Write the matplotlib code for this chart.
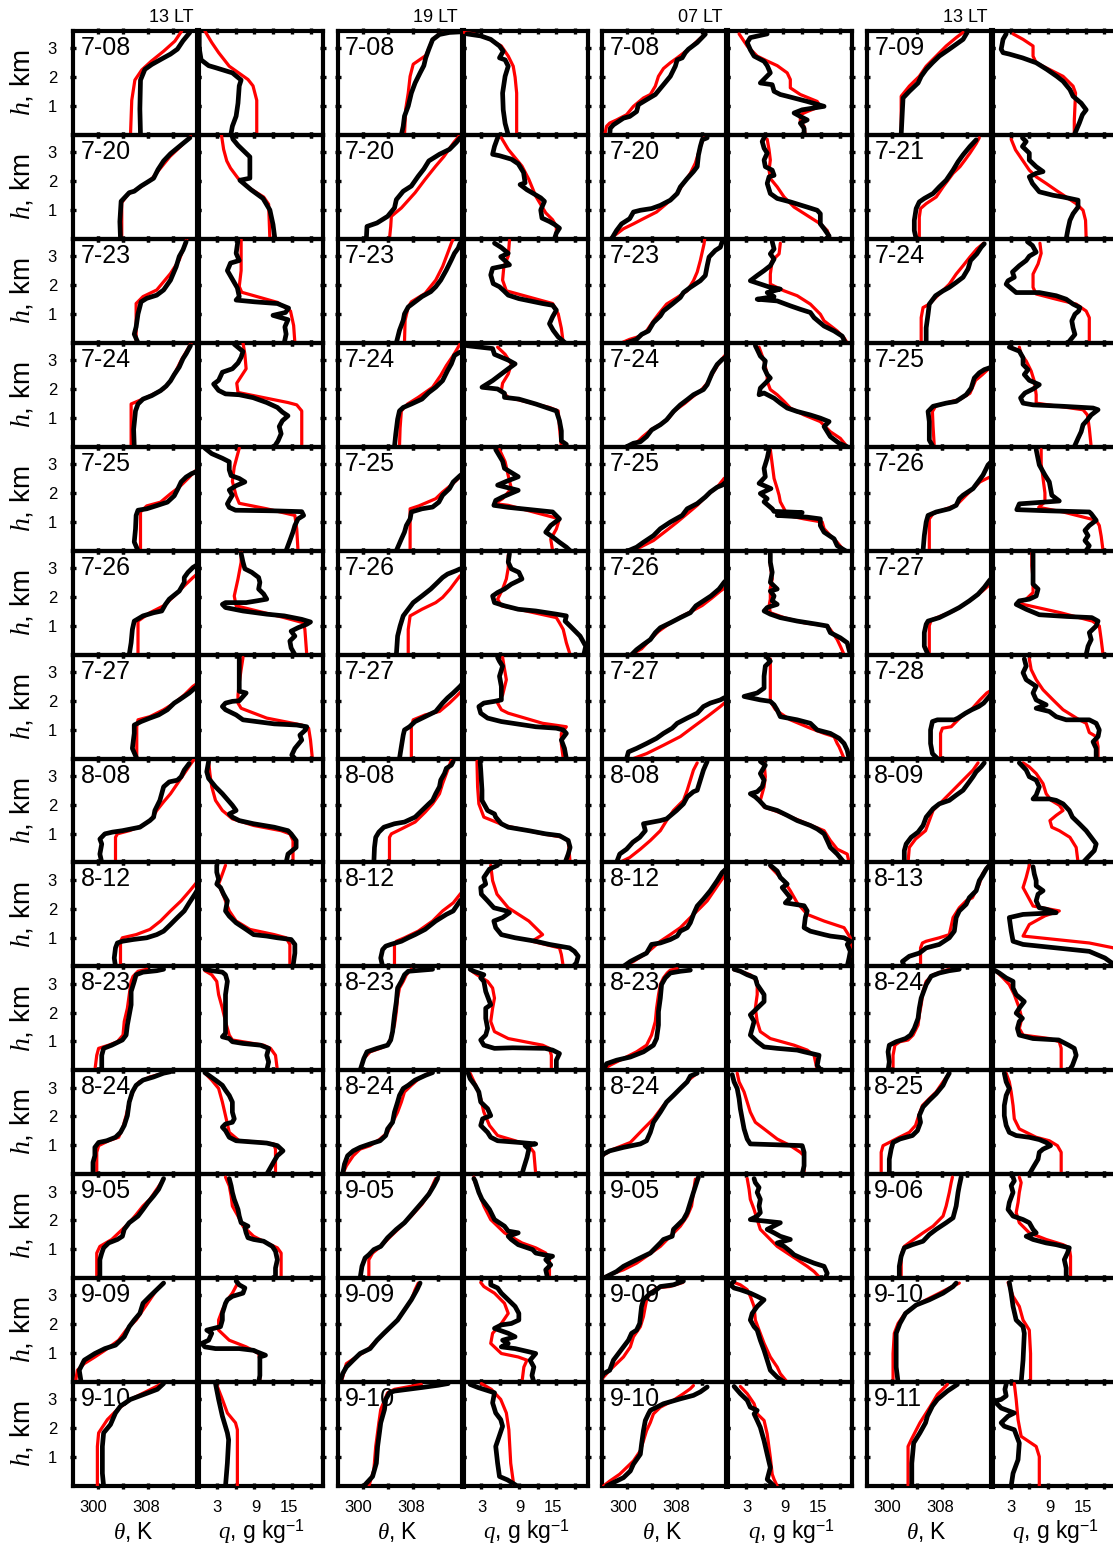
import matplotlib
matplotlib.use("Agg")
import matplotlib.pyplot as plt

plt.rcParams['font.family'] = ['Liberation Sans', 'DejaVu Sans']
plt.rcParams['mathtext.fontset'] = 'custom'
plt.rcParams['mathtext.it'] = 'Liberation Serif:italic'
plt.rcParams['mathtext.rm'] = 'Liberation Sans'

# ---------------------------------------------------------------- labels
col_titles = ['13 LT', '19 LT', '07 LT', '13 LT']
dates_13a = ['7-08', '7-20', '7-23', '7-24', '7-25', '7-26', '7-27',
             '8-08', '8-12', '8-23', '8-24', '9-05', '9-09', '9-10']
dates_19 = list(dates_13a)
dates_07 = list(dates_13a)
dates_13b = ['7-09', '7-21', '7-24', '7-25', '7-26', '7-27', '7-28',
             '8-09', '8-13', '8-24', '8-25', '9-06', '9-10', '9-11']
theta_ticks = [300, 304, 308, 312]
theta_labels = [(300, '300', -4.5), (308, '308', -1.5)]   # value, text, pixel nudge
q_ticks = [3, 6, 9, 12, 15, 18]
q_labels = [(3, '3', 0.5), (9, '9', 1.5), (15, '15', -3.0)]
h_ticks = [1, 2, 3]

# Profiles are (value, height km) pairs; theta in K, q in g/kg.
# ---------------------------------------------------------------- 13 LT (first column)
theta_mod_13a = [
    [(305.2,0),(305.4,1.2),(305.9,1.9),(307.0,2.25),(308.5,2.55),(310.5,2.9),(312.3,3.25),(313.4,3.6)],
    [(303.8,0),(303.8,1.25),(304.8,1.55),(306.5,1.75),(308.5,2.05),(310.0,2.45),(311.5,2.85),(313.2,3.2),(314.8,3.55)],
    [(306.1,0),(306.1,1.36),(307.2,1.6),(309.4,1.83),(311.6,2.4),(313.0,2.87),(313.8,3.34),(314.2,3.6)],
    [(305.3,0),(305.3,1.48),(307.8,1.71),(310.5,2.0),(311.6,2.28),(312.5,2.64),(313.3,2.99),(314.4,3.4),(314.9,3.6)],
    [(306.8,0),(306.8,1.34),(307.8,1.55),(310.0,1.68),(311.6,1.97),(313.0,2.2),(314.4,2.5),(315.5,2.75),(316.5,2.9)],
    [(306.4,0),(306.4,1.16),(308.3,1.45),(310.5,1.69),(312.2,2.03),(313.8,2.38),(315.2,2.67),(316.2,2.85)],
    [(306.2,0),(306.2,1.1),(306.4,1.34),(308.3,1.45),(310.5,1.69),(312.2,1.92),(313.8,2.2),(315.2,2.5),(316.2,2.65)],
    [(302.8,0),(302.8,0.87),(303.1,0.99),(305.0,1.1),(307.2,1.28),(308.6,1.51),(309.4,1.8),(310.5,2.1),(311.6,2.38),(312.7,2.73),(313.8,3.08),(314.9,3.43),(315.3,3.55)],
    [(303.6,0),(303.6,0.87),(303.9,0.99),(306.1,1.1),(308.3,1.28),(310.0,1.57),(311.6,1.92),(313.3,2.27),(314.7,2.62),(315.8,2.91),(316.3,3.0)],
    [(299.5,0),(299.8,0.52),(300.1,0.76),(301.7,0.87),(303.1,0.99),(304.0,1.22),(304.2,1.69),(304.7,2.15),(305.0,2.62),(305.3,3.08),(305.6,3.25),(306.4,3.43),(307.8,3.5)],
    [(299.8,0),(299.8,0.76),(300.1,0.99),(301.7,1.16),(303.3,1.28),(303.9,1.57),(304.5,2.03),(305.0,2.5),(305.8,2.97),(306.6,3.2),(308.3,3.37),(310.5,3.5)],
    [(299.8,0),(299.8,0.87),(300.3,1.1),(302.2,1.34),(303.9,1.69),(305.0,1.92),(306.1,2.2),(307.2,2.5),(308.3,2.73),(309.4,3.08),(310.5,3.43)],
    [(296.4,0),(296.7,0.41),(297.8,0.64),(299.5,0.87),(301.1,1.1),(303.3,1.45),(304.5,1.8),(306.1,2.15),(307.2,2.5),(308.3,2.85),(309.4,3.2),(310.5,3.43)],
    [(299.9,0),(299.9,1.37),(300.1,1.84),(301.5,2.3),(303.1,2.65),(305.2,3.0),(307.9,3.29),(310.0,3.52)],
]
theta_obs_13a = [
    [(306.8,0),(306.7,0.9),(306.8,1.9),(307.5,2.27),(308.6,2.44),(310.5,2.67),(311.6,2.8),(312.7,2.97),(313.6,3.26),(314.7,3.55)],
    [(303.6,0),(303.5,0.6),(303.7,1.3),(305.0,1.6),(305.8,1.65),(306.9,1.83),(307.8,1.95),(308.9,2.1),(309.6,2.4),(310.5,2.7),(311.6,2.95),(313.0,3.2),(314.7,3.5)],
    [(306.4,0),(305.8,0.3),(306.1,0.55),(306.4,1.0),(306.7,1.25),(306.9,1.42),(307.8,1.54),(309.4,1.65),(310.5,1.83),(311.6,2.17),(312.5,2.63),(313.0,2.99),(313.6,3.22),(314.1,3.5)],
    [(305.8,0),(305.7,0.6),(306.0,1.24),(306.4,1.48),(307.2,1.65),(308.6,1.77),(310.0,1.94),(310.9,2.1),(311.6,2.28),(312.2,2.5),(313.0,2.76),(313.6,3.05),(314.1,3.22),(314.8,3.5)],
    [(306.4,0),(305.8,0.3),(306.0,0.75),(306.1,1.22),(306.4,1.4),(307.8,1.45),(309.4,1.56),(311.1,1.68),(312.2,1.9),(312.8,2.15),(313.3,2.38),(314.1,2.55),(315.0,2.67),(316.5,2.8)],
    [(305.0,0),(305.3,0.41),(305.5,0.87),(305.8,1.16),(307.2,1.34),(308.9,1.45),(310.2,1.51),(310.8,1.74),(311.4,1.92),(313.0,2.2),(313.8,2.5),(313.8,2.67),(314.4,2.85),(315.2,3.02),(316.2,3.15)],
    [(306.2,0),(305.5,0.35),(305.8,0.87),(305.8,1.16),(306.9,1.28),(308.3,1.4),(309.7,1.51),(311.1,1.69),(312.2,1.92),(313.0,2.03),(313.8,2.15),(314.6,2.27),(315.5,2.44),(316.2,2.55)],
    [(300.6,0),(300.3,0.29),(300.6,0.64),(300.3,0.81),(301.1,0.99),(302.3,1.05),(303.9,1.1),(306.7,1.22),(308.3,1.45),(308.9,1.57),(309.1,1.8),(309.9,2.15),(310.5,2.62),(311.4,2.79),(312.7,2.85),(313.3,2.97),(313.8,3.2),(314.6,3.43)],
    [(302.8,0),(302.6,0.29),(302.8,0.64),(303.1,0.81),(303.9,0.87),(305.6,0.93),(307.8,0.99),(309.4,1.1),(310.5,1.22),(311.6,1.45),(312.7,1.69),(313.8,1.92),(314.6,2.2),(315.5,2.5),(316.2,2.75)],
    [(300.6,0),(300.6,0.52),(300.9,0.76),(302.2,0.87),(303.9,1.05),(304.5,1.22),(304.7,1.57),(305.0,1.92),(305.3,2.27),(305.3,2.73),(305.8,3.08),(306.1,3.31),(307.2,3.4),(309.4,3.45),(310.5,3.5)],
    [(299.2,0),(299.2,0.41),(299.5,0.64),(299.5,0.93),(300.1,1.1),(301.4,1.16),(302.8,1.28),(303.6,1.45),(304.2,1.69),(304.7,2.03),(305.0,2.5),(305.5,2.85),(306.1,3.08),(307.2,3.26),(308.9,3.37),(310.5,3.5),(311.6,3.55)],
    [(300.3,0),(300.3,0.64),(300.6,0.87),(300.9,1.05),(301.7,1.22),(303.1,1.34),(303.9,1.45),(304.2,1.69),(305.0,1.92),(306.4,2.15),(307.2,2.38),(308.0,2.62),(308.9,2.85),(309.7,3.08),(310.2,3.31),(310.5,3.45)],
    [(297.3,0),(297.0,0.41),(297.8,0.76),(299.5,0.99),(301.1,1.16),(302.8,1.28),(304.2,1.57),(305.0,1.92),(305.8,2.15),(306.7,2.38),(307.2,2.73),(308.3,2.97),(309.4,3.2),(310.5,3.43)],
    [(300.9,0),(300.7,0.44),(300.7,1.37),(300.9,1.84),(302.0,2.13),(302.8,2.53),(303.6,2.77),(305.2,3.0),(307.3,3.17),(309.5,3.35),(310.5,3.55)],
]
q_mod_13a = [
    [(9.4,0),(9.4,1.2),(8.8,1.7),(8.0,1.92),(5.0,2.38),(3.3,2.85),(2.2,3.2),(1.1,3.6)],
    [(11.5,0),(11.3,1.2),(10.5,1.45),(8.3,1.75),(6.4,2.1),(5.2,2.45),(4.6,2.7),(4.1,3.1),(3.75,3.6)],
    [(15.5,0),(15.3,0.6),(14.8,1.1),(12.7,1.4),(7.0,1.75),(6.6,1.95),(6.9,2.5),(6.9,3.6)],
    [(16.6,0),(16.6,1.24),(15.8,1.45),(14.4,1.53),(6.4,1.88),(6.2,2.2),(7.7,2.7),(7.5,3.2),(7.2,3.6)],
    [(16.0,0),(15.8,0.75),(15.5,1.22),(11.0,1.45),(6.6,1.64),(6.1,1.9),(5.5,2.4),(5.8,2.9),(6.6,3.55)],
    [(17.4,0),(17.1,0.87),(16.9,1.1),(13.8,1.28),(6.1,1.69),(5.8,2.03),(6.4,2.62),(6.9,3.2),(6.9,3.6)],
    [(18.3,0),(18.0,0.64),(17.7,1.05),(16.6,1.16),(11.0,1.4),(6.9,1.74),(6.4,1.92),(6.4,2.2),(6.6,2.62),(6.9,3.08),(7.2,3.5)],
    [(15.2,0),(15.2,0.76),(14.7,0.99),(13.3,1.1),(8.9,1.28),(5.5,1.51),(3.9,1.8),(2.8,2.15),(2.2,2.62),(1.9,3.08),(1.7,3.5)],
    [(14.7,0),(14.7,0.76),(14.1,0.99),(12.2,1.1),(8.3,1.28),(6.1,1.57),(5.0,1.92),(4.2,2.38),(3.3,2.85),(3.9,3.2),(4.4,3.5)],
    [(12.7,0),(12.4,0.52),(11.6,0.76),(10.5,0.87),(5.5,1.05),(5.0,1.22),(4.4,1.69),(3.9,2.15),(3.3,2.62),(3.0,3.08),(2.2,3.31),(1.1,3.45)],
    [(12.4,0),(12.4,0.87),(12.1,1.05),(10.5,1.1),(6.6,1.16),(5.0,1.45),(4.4,2.03),(3.9,2.5),(3.3,2.97),(2.2,3.26),(1.1,3.5)],
    [(13.3,0),(13.3,0.87),(12.7,1.05),(11.0,1.22),(8.9,1.45),(7.2,1.8),(6.4,2.15),(5.5,2.5),(5.3,2.85),(5.0,3.2),(4.4,3.5)],
    [(9.9,0),(9.9,0.76),(9.7,0.99),(7.7,1.22),(5.0,1.45),(3.3,1.8),(3.3,2.15),(3.9,2.5),(4.7,2.85),(5.5,3.08),(6.4,3.45)],
    [(6.3,0),(6.3,1.95),(6.0,2.19),(4.7,2.53),(3.9,3.0),(3.0,3.5)],
]
q_obs_13a = [
    [(5.25,0),(5.5,0.3),(6.1,0.65),(6.4,1.1),(6.6,1.7),(6.9,1.9),(5.5,2.15),(2.8,2.33),(1.7,2.4),(1.1,2.5),(0.5,2.6),(0.2,3.0),(0.2,3.6)],
    [(12.3,0),(12.0,0.5),(11.5,1.0),(10.4,1.4),(8.5,1.7),(6.7,2.03),(8.3,2.1),(8.3,2.84),(6.4,3.24),(5.6,3.45),(5.4,3.6)],
    [(13.8,0),(14.1,0.3),(13.9,0.55),(14.4,0.8),(12.0,0.95),(14.0,1.05),(14.5,1.2),(12.7,1.36),(9.0,1.42),(6.1,1.48),(6.6,1.6),(6.3,1.9),(5.5,2.2),(4.7,2.5),(5.2,2.76),(6.6,2.85),(6.1,3.1),(6.4,3.55)],
    [(12.2,0),(12.8,0.2),(13.3,0.45),(13.0,0.7),(13.5,0.9),(14.4,1.07),(13.5,1.2),(12.7,1.36),(11.0,1.53),(8.8,1.7),(6.6,1.8),(4.4,1.83),(3.3,1.95),(2.5,2.17),(3.3,2.3),(3.9,2.58),(5.5,2.7),(6.4,2.9),(6.9,3.1),(7.2,3.3),(5.8,3.55)],
    [(14.1,0),(14.7,0.35),(15.2,0.65),(15.5,0.87),(16.0,1.1),(16.9,1.22),(16.6,1.35),(12.0,1.38),(6.0,1.4),(5.0,1.5),(4.7,1.62),(5.0,1.74),(5.5,1.92),(5.0,2.1),(6.1,2.25),(7.5,2.38),(6.6,2.5),(5.3,2.6),(5.0,2.8),(5.0,3.08),(3.9,3.2),(2.2,3.36),(1.1,3.55)],
    [(15.5,0),(14.9,0.23),(14.7,0.47),(15.5,0.64),(14.9,0.81),(16.0,0.93),(17.4,1.05),(18.0,1.13),(16.6,1.22),(13.8,1.34),(11.0,1.4),(7.2,1.51),(4.4,1.63),(3.9,1.74),(4.4,1.8),(7.7,1.8),(9.4,1.86),(11.0,1.92),(10.5,2.1),(9.7,2.27),(9.9,2.5),(9.7,2.67),(8.6,2.85),(7.5,2.97),(7.2,3.2),(6.9,3.5)],
    [(15.5,0),(15.0,0.12),(15.5,0.35),(16.6,0.64),(16.3,0.81),(17.2,0.99),(17.4,1.1),(15.8,1.16),(12.2,1.2),(7.2,1.34),(6.1,1.51),(4.4,1.69),(3.9,1.8),(4.4,1.92),(5.5,1.98),(6.6,2.0),(7.7,2.27),(6.6,2.33),(6.6,2.73),(6.6,3.5)],
    [(14.1,0),(14.4,0.29),(15.7,0.52),(15.7,0.76),(14.9,0.99),(14.4,1.1),(12.2,1.22),(8.9,1.34),(6.6,1.45),(5.5,1.57),(5.0,1.68),(6.1,1.8),(5.5,1.98),(3.9,2.38),(2.8,2.62),(1.7,2.91),(1.4,3.14),(1.7,3.5)],
    [(15.2,0),(15.5,0.46),(15.5,0.76),(14.9,0.93),(12.7,0.99),(11.0,1.05),(8.9,1.1),(7.7,1.28),(6.1,1.51),(5.0,1.74),(4.4,1.92),(4.7,2.27),(4.1,2.5),(3.6,2.73),(3.0,2.85),(3.3,3.02),(3.0,3.26),(3.0,3.5)],
    [(11.0,0),(11.3,0.29),(11.0,0.52),(11.3,0.76),(10.0,0.87),(7.2,0.93),(5.5,0.99),(5.0,1.1),(3.9,1.16),(4.4,1.28),(4.4,1.69),(4.4,2.15),(4.4,2.62),(4.7,3.08),(4.4,3.31),(3.9,3.4),(2.2,3.45),(1.1,3.5)],
    [(11.0,0),(11.6,0.23),(12.2,0.46),(12.7,0.64),(13.6,0.81),(12.7,0.99),(11.0,1.08),(6.1,1.16),(5.0,1.28),(4.4,1.51),(3.9,1.63),(4.4,1.74),(5.5,1.8),(5.8,1.92),(5.5,2.15),(5.5,2.5),(5.0,2.73),(4.4,2.91),(3.9,3.08),(2.8,3.26),(1.7,3.43),(1.1,3.52)],
    [(12.4,0),(12.4,0.35),(12.7,0.64),(12.4,0.93),(11.9,1.1),(10.5,1.28),(8.9,1.34),(8.0,1.4),(7.7,1.57),(7.5,1.74),(8.0,1.8),(6.9,1.92),(6.6,2.15),(6.4,2.38),(5.8,2.73),(5.5,2.97),(5.3,3.2),(5.0,3.45)],
    [(9.7,0),(9.9,0.23),(9.9,0.64),(9.9,0.87),(10.8,0.93),(9.4,1.05),(8.9,1.1),(6.6,1.16),(2.8,1.16),(1.1,1.22),(0.6,1.34),(1.7,1.45),(2.2,1.69),(1.4,1.8),(3.6,1.92),(3.9,2.15),(3.9,2.38),(4.4,2.73),(4.7,2.85),(5.5,2.97),(7.2,3.08),(7.5,3.26),(6.6,3.37),(6.1,3.5)],
    [(4.4,0),(4.7,0.8),(4.9,1.6),(4.7,1.84),(3.9,2.42),(3.3,3.0),(2.8,3.55)],
]

# ---------------------------------------------------------------- 19 LT
theta_mod_19 = [
    [(306.7,0),(306.9,0.9),(307.3,1.45),(307.6,2.03),(308.1,2.45),(310.1,2.75),(311.2,3.3),(312.3,3.5),(314.0,3.56),(316.5,3.58)],
    [(304.3,0),(304.5,0.43),(304.6,0.78),(306.2,1.07),(308.4,1.6),(310.0,2.06),(311.7,2.52),(313.0,2.85),(314.6,3.34),(315.6,3.6)],
    [(306.7,0),(306.8,0.78),(307.3,1.24),(307.8,1.42),(310.0,1.71),(311.7,2.17),(312.8,2.64),(313.6,3.1),(314.2,3.45),(314.5,3.6)],
    [(305.9,0),(306.0,0.65),(306.2,1.24),(307.2,1.48),(308.9,1.71),(311.2,2.06),(312.5,2.47),(313.4,2.81),(314.5,3.16),(315.3,3.45),(315.7,3.6)],
    [(307.6,0),(307.6,1.45),(309.0,1.55),(311.7,1.8),(312.8,2.03),(314.5,2.33),(315.6,2.56),(316.5,2.7)],
    [(307.3,0),(307.3,0.87),(307.6,1.34),(309.5,1.57),(311.7,1.8),(312.8,1.98),(314.0,2.27),(315.0,2.56),(315.6,2.73)],
    [(307.8,0),(307.8,1.1),(308.1,1.34),(310.0,1.51),(312.3,1.63),(313.9,1.92),(315.0,2.15),(315.8,2.33),(316.2,2.4)],
    [(304.3,0),(304.3,0.87),(304.6,0.99),(306.2,1.16),(308.4,1.4),(310.0,1.74),(311.2,2.03),(312.3,2.38),(312.8,2.73),(313.4,3.08),(314.0,3.43),(314.3,3.6)],
    [(305.1,0),(305.1,0.76),(305.4,0.87),(306.7,0.99),(308.9,1.22),(311.2,1.57),(312.8,1.92),(314.5,2.2),(315.6,2.5),(316.2,2.65)],
    [(299.6,0),(300.2,0.41),(301.2,0.64),(302.8,0.76),(304.0,0.87),(304.5,1.1),(305.1,1.57),(305.4,2.03),(305.6,2.5),(305.9,2.85),(306.5,3.08),(307.0,3.31),(307.8,3.5)],
    [(296.8,0),(297.4,0.29),(298.5,0.64),(299.6,0.87),(301.2,0.99),(302.8,1.22),(304.0,1.45),(304.8,1.8),(305.6,2.15),(306.2,2.5),(306.7,2.85),(307.8,3.08),(309.0,3.31),(310.6,3.5)],
    [(301.0,0),(301.0,0.64),(301.6,0.87),(302.9,1.1),(304.5,1.45),(306.2,1.8),(307.8,2.15),(309.5,2.56),(310.6,2.91),(311.4,3.31),(311.7,3.45)],
    [(296.6,0),(297.1,0.41),(297.4,0.64),(299.0,0.87),(300.7,1.1),(302.3,1.45),(304.0,1.8),(305.6,2.15),(306.7,2.5),(307.8,2.85),(308.4,3.2),(308.9,3.43)],
    [(301.0,0),(301.8,0.56),(302.1,1.37),(302.6,2.19),(302.9,2.65),(304.0,3.23),(305.1,3.35),(309.4,3.52)],
]
theta_obs_19 = [
    [(306.2,0),(306.5,0.3),(306.7,0.65),(307.3,1.0),(307.8,1.45),(308.4,1.8),(309.2,2.15),(309.8,2.4),(310.1,2.67),(310.6,2.97),(311.2,3.3),(312.3,3.48),(313.9,3.55),(316.5,3.58)],
    [(300.6,0),(300.7,0.43),(302.3,0.55),(304.0,0.78),(305.1,1.07),(305.4,1.36),(306.5,1.65),(307.8,1.83),(308.9,2.17),(309.8,2.42),(310.6,2.7),(312.3,2.93),(313.9,3.1),(315.0,3.34),(315.6,3.5)],
    [(305.4,0),(305.9,0.43),(306.5,0.78),(306.7,1.0),(307.3,1.24),(308.4,1.42),(309.5,1.6),(310.9,1.77),(311.7,1.94),(312.5,2.17),(313.4,2.52),(314.2,2.87),(314.7,3.1),(315.3,3.28),(315.6,3.45)],
    [(305.1,0),(305.3,0.43),(305.6,0.95),(305.9,1.24),(306.5,1.36),(307.8,1.48),(309.5,1.65),(310.6,1.88),(311.7,2.06),(312.8,2.29),(313.6,2.64),(314.2,2.87),(314.7,3.16),(315.6,3.28)],
    [(305.4,0),(306.2,0.4),(306.7,0.64),(307.0,0.87),(307.6,1.1),(307.8,1.34),(309.5,1.45),(311.2,1.51),(312.2,1.68),(312.8,1.92),(313.9,2.15),(314.5,2.38),(315.6,2.6),(316.5,2.75)],
    [(305.4,0),(305.6,0.64),(306.0,0.99),(306.5,1.34),(307.3,1.57),(308.1,1.8),(309.5,2.03),(310.9,2.27),(312.0,2.5),(312.8,2.67),(313.6,2.79),(315.0,2.91),(315.6,2.97)],
    [(305.9,0),(306.2,0.41),(306.5,0.81),(306.7,0.99),(307.5,1.1),(308.4,1.28),(310.0,1.45),(311.7,1.63),(312.8,1.92),(313.6,2.1),(314.5,2.27),(315.6,2.5),(316.0,2.6)],
    [(301.8,0),(301.9,0.52),(302.1,0.87),(302.6,1.05),(303.4,1.22),(305.1,1.34),(306.7,1.4),(308.4,1.57),(309.5,1.8),(310.6,2.03),(311.2,2.15),(311.7,2.38),(312.3,2.62),(312.5,2.85),(313.1,3.08),(313.4,3.26),(314.2,3.37),(314.5,3.5)],
    [(303.2,0),(302.9,0.29),(303.2,0.58),(303.7,0.7),(304.5,0.76),(306.2,0.87),(307.3,0.99),(308.4,1.1),(310.0,1.28),(311.7,1.57),(313.4,1.8),(314.5,1.92),(315.6,2.27),(316.2,2.4)],
    [(299.6,0),(300.2,0.41),(300.7,0.64),(302.3,0.76),(304.0,0.87),(304.5,1.05),(304.8,1.34),(305.1,1.92),(305.4,2.38),(305.6,2.85),(306.2,3.08),(306.7,3.31),(307.3,3.43),(309.5,3.47),(311.2,3.5)],
    [(296.8,0),(297.1,0.35),(297.6,0.64),(298.5,0.81),(299.6,0.93),(301.2,1.05),(302.8,1.16),(303.7,1.34),(304.0,1.57),(304.8,1.8),(305.1,2.15),(305.6,2.5),(305.9,2.73),(306.5,2.97),(307.3,3.08),(308.4,3.26),(310.1,3.43),(311.2,3.52)],
    [(299.6,0),(299.9,0.41),(300.4,0.7),(301.0,0.81),(301.8,0.99),(302.9,1.1),(304.0,1.4),(305.4,1.69),(306.7,1.92),(308.1,2.27),(309.5,2.62),(310.6,2.91),(311.4,3.2),(312.0,3.45)],
    [(296.4,0),(296.8,0.29),(297.4,0.52),(298.5,0.76),(299.6,0.99),(301.2,1.16),(302.3,1.45),(303.4,1.69),(304.5,1.92),(305.6,2.15),(306.7,2.5),(307.8,2.85),(308.7,3.2),(309.2,3.43)],
    [(300.2,0),(301.6,0.33),(302.2,0.79),(302.4,1.37),(302.9,2.19),(303.5,2.65),(303.7,3.0),(304.3,3.23),(305.1,3.29),(309.4,3.41),(312.1,3.49),(313.7,3.55)],
]
q_mod_19 = [
    [(8.65,0),(8.65,1.45),(8.4,2.0),(8.1,2.38),(7.3,2.73),(6.2,3.08),(4.0,3.35),(1.8,3.5),(0.1,3.56)],
    [(15.0,0),(15.0,0.43),(14.4,0.66),(13.3,0.9),(11.7,1.48),(10.6,2.06),(9.5,2.52),(7.3,3.1),(6.2,3.5)],
    [(16.1,0),(15.8,0.5),(15.3,1.0),(14.4,1.36),(7.0,1.8),(6.4,2.17),(6.6,2.64),(7.3,3.0),(7.5,3.55)],
    [(15.8,0),(15.5,0.65),(15.3,1.24),(13.9,1.36),(7.3,1.71),(6.2,1.94),(6.4,2.2),(7.3,2.52),(7.8,2.87),(6.8,3.2),(5.6,3.45)],
    [(14.4,0),(14.1,0.4),(15.0,0.75),(15.5,1.1),(7.3,1.57),(5.1,1.63),(6.4,1.8),(7.8,2.15),(7.3,2.6),(6.8,3.08),(5.9,3.5)],
    [(17.2,0),(16.6,0.41),(16.1,0.87),(15.5,1.1),(15.0,1.28),(8.9,1.57),(6.2,1.69),(5.6,1.92),(6.4,2.27),(7.0,2.62),(7.3,3.0),(7.3,3.45)],
    [(16.1,0),(15.8,0.5),(15.8,0.87),(16.6,1.1),(12.8,1.22),(7.3,1.57),(6.2,1.69),(5.6,1.92),(6.4,2.2),(7.0,2.73),(6.7,3.1),(6.4,3.5)],
    [(17.2,0),(16.9,0.76),(16.1,0.87),(12.8,0.99),(6.7,1.28),(3.4,1.57),(2.6,2.03),(2.4,2.62),(2.3,3.5)],
    [(16.1,0),(15.8,0.41),(15.5,0.64),(11.1,0.87),(12.8,1.1),(10.6,1.57),(7.3,2.03),(5.5,2.5),(4.8,2.97),(4.5,3.5)],
    [(14.2,0),(14.2,0.52),(13.9,0.76),(12.8,0.87),(7.3,1.1),(5.1,1.34),(4.5,1.69),(4.8,2.15),(5.1,2.5),(4.8,2.85),(4.0,3.08),(2.3,3.31),(1.2,3.48)],
    [(11.7,0),(11.4,0.76),(10.6,0.99),(8.4,1.16),(5.6,1.34),(4.3,1.69),(3.4,2.15),(2.9,2.62),(2.1,3.08),(1.2,3.5)],
    [(13.9,0),(13.9,0.64),(13.3,0.87),(11.7,1.05),(9.5,1.22),(6.7,1.57),(4.5,2.03),(3.4,2.5),(2.6,2.97),(2.0,3.31),(1.8,3.5)],
    [(9.5,0),(9.8,0.52),(10.3,0.76),(8.9,0.87),(6.2,0.99),(4.5,1.34),(4.8,1.69),(6.2,2.03),(7.3,2.38),(6.7,2.73),(5.1,3.08),(3.4,3.31),(2.9,3.45)],
    [(8.2,0),(7.7,0.79),(7.4,1.95),(7.0,2.53),(6.1,3.0),(4.6,3.35),(3.0,3.55)],
]
q_obs_19 = [
    [(7.3,0),(6.8,0.4),(6.5,0.87),(6.4,1.45),(6.8,2.03),(7.3,2.38),(6.8,2.6),(5.9,2.67),(6.5,2.9),(5.9,3.08),(4.5,3.31),(2.9,3.43),(0.7,3.5)],
    [(14.7,0),(15.0,0.2),(15.5,0.37),(14.7,0.5),(13.9,0.6),(12.7,0.72),(12.5,1.0),(13.1,1.3),(12.5,1.42),(11.1,1.6),(10.3,1.7),(9.2,1.88),(10.0,1.94),(9.75,2.3),(8.9,2.6),(7.8,2.76),(5.9,2.88),(4.8,2.93),(5.1,3.2),(5.6,3.5)],
    [(16.4,0),(15.3,0.2),(14.5,0.43),(13.9,0.66),(14.4,0.9),(15.0,1.13),(14.4,1.3),(12.8,1.36),(9.0,1.53),(7.3,1.65),(6.6,1.8),(5.9,1.94),(4.9,2.05),(4.5,2.35),(4.8,2.58),(7.5,2.7),(6.1,2.98),(7.3,3.1),(6.2,3.3),(5.1,3.45)],
    [(16.4,0),(16.6,0.08),(15.8,0.2),(15.8,0.55),(15.5,0.9),(15.0,1.24),(11.7,1.48),(9.0,1.65),(6.7,1.71),(6.7,1.85),(5.6,2.0),(3.1,2.06),(4.8,2.29),(6.2,2.52),(7.3,2.7),(8.4,2.87),(7.3,3.0),(5.1,3.2),(4.8,3.4),(0.7,3.5)],
    [(17.2,0),(16.6,0.12),(15.5,0.29),(14.5,0.46),(13.3,0.64),(14.1,0.87),(15.5,1.1),(14.4,1.34),(7.3,1.5),(5.0,1.57),(5.3,1.74),(6.4,1.86),(8.9,2.09),(5.6,2.27),(7.0,2.4),(8.9,2.56),(6.7,2.85),(6.4,3.1),(5.3,3.5)],
    [(19.4,0),(19.7,0.29),(18.8,0.64),(17.2,0.99),(16.4,1.16),(16.6,1.34),(15.0,1.4),(11.7,1.51),(8.9,1.57),(6.7,1.69),(5.1,1.8),(4.8,2.03),(5.6,2.15),(6.7,2.27),(7.8,2.44),(9.5,2.62),(9.0,2.85),(7.8,2.97),(7.3,3.2),(7.5,3.5)],
    [(16.6,0),(16.3,0.35),(15.8,0.64),(16.6,0.87),(16.1,0.99),(15.0,1.05),(11.7,1.1),(6.2,1.28),(4.0,1.4),(2.9,1.57),(2.6,1.8),(3.4,1.92),(5.1,1.98),(6.2,2.03),(6.2,2.5),(5.9,2.85),(6.4,3.2),(5.9,3.37),(5.6,3.5)],
    [(16.4,0),(16.9,0.29),(17.2,0.52),(16.9,0.76),(15.5,0.93),(13.3,0.99),(10.6,1.1),(7.3,1.22),(6.2,1.34),(5.3,1.57),(5.1,1.68),(4.0,1.8),(3.1,2.15),(3.1,2.5),(3.0,2.85),(2.9,3.2),(2.8,3.5)],
    [(17.7,0),(18.2,0.12),(18.5,0.35),(17.9,0.52),(17.1,0.64),(13.9,0.76),(11.7,0.87),(8.4,0.99),(6.2,1.1),(5.3,1.34),(5.0,1.57),(6.4,1.69),(7.5,1.86),(7.0,1.92),(5.0,2.03),(4.0,2.27),(3.0,2.5),(2.9,2.73),(3.7,2.85),(3.4,3.08),(4.3,3.37),(5.6,3.5)],
    [(15.0,0),(15.0,0.35),(15.5,0.58),(14.4,0.7),(13.2,0.76),(8.0,0.78),(5.1,0.76),(3.4,0.87),(2.9,1.05),(3.7,1.22),(4.0,1.45),(3.7,1.8),(3.7,2.15),(4.5,2.27),(3.7,2.73),(3.4,3.08),(2.9,3.2),(3.4,3.31),(1.8,3.43),(1.2,3.5)],
    [(9.5,0),(9.8,0.23),(10.3,0.58),(10.6,0.87),(10.0,0.99),(11.7,1.05),(9.1,1.1),(5.6,1.16),(4.5,1.28),(4.0,1.45),(2.9,1.69),(3.2,1.92),(4.5,2.03),(4.0,2.27),(2.9,2.5),(2.6,2.85),(2.0,3.08),(1.2,3.31),(0.9,3.5)],
    [(13.6,0),(13.3,0.29),(14.1,0.46),(13.3,0.64),(14.4,0.76),(13.0,0.81),(11.7,0.87),(11.2,0.99),(8.9,1.16),(7.8,1.34),(7.3,1.45),(8.9,1.57),(7.3,1.63),(6.7,1.8),(5.1,2.03),(4.3,2.38),(3.1,2.73),(2.6,2.97),(2.0,3.37),(1.8,3.45)],
    [(11.4,0),(11.1,0.23),(11.4,0.52),(10.8,0.76),(11.7,0.99),(10.6,1.05),(8.4,1.16),(6.2,1.22),(7.3,1.34),(6.4,1.45),(8.4,1.57),(7.3,1.69),(5.1,1.86),(6.2,1.98),(7.8,2.03),(9.0,2.15),(9.0,2.38),(8.4,2.62),(7.3,2.85),(6.2,3.08),(5.6,3.26),(4.5,3.37),(4.5,3.5)],
    [(8.75,0),(7.2,0.21),(5.9,0.33),(5.6,0.79),(5.3,1.37),(6.4,2.07),(6.1,2.3),(5.3,2.53),(4.8,2.88),(5.1,3.23),(2.5,3.41),(1.2,3.52)],
]

# ---------------------------------------------------------------- 07 LT
theta_mod_07 = [
    [(296.4,0),(296.7,0.3),(297.2,0.41),(298.3,0.52),(299.9,0.7),(301.0,0.99),(302.6,1.28),(303.7,1.4),(304.5,1.69),(305.0,2.03),(305.8,2.3),(306.9,2.5),(308.0,2.67),(310.1,3.02),(311.2,3.25),(312.5,3.5)],
    [(297.2,0),(298.3,0.17),(299.4,0.35),(301.0,0.52),(302.6,0.7),(304.7,0.93),(306.3,1.22),(308.0,1.57),(309.0,1.92),(310.1,2.27),(310.9,2.62),(311.4,2.97),(312.0,3.37),(312.3,3.5)],
    [(299.1,0),(300.4,0.12),(302.1,0.23),(303.1,0.41),(304.2,0.76),(305.0,0.99),(306.3,1.34),(308.0,1.57),(309.6,1.8),(310.6,2.15),(311.2,2.45),(311.7,2.85),(312.3,3.43),(312.4,3.6)],
    [(300.2,0),(301.3,0.1),(302.5,0.35),(303.9,0.6),(305.5,0.8),(306.6,0.98),(307.6,1.25),(309.2,1.5),(310.3,1.7),(311.8,1.95),(312.8,2.2),(313.6,2.5),(314.4,2.8),(315.4,3.1),(316.2,3.3)],
    [(300.5,0),(302.1,0.12),(304.2,0.35),(306.3,0.7),(308.0,0.99),(309.6,1.28),(311.2,1.57),(312.8,1.92),(314.4,2.2),(315.5,2.5),(316.2,2.6)],
    [(300.7,0),(302.3,0.2),(303.6,0.5),(305.0,0.8),(306.6,1.05),(308.5,1.3),(310.3,1.5),(312.0,1.7),(313.5,1.95),(314.9,2.2),(316.2,2.4)],
    [(301.0,0),(303.1,0.17),(305.8,0.46),(308.5,0.76),(310.6,1.1),(312.8,1.45),(314.9,1.8),(315.7,1.95),(316.2,2.0)],
    [(298.8,0),(300.4,0.17),(302.1,0.46),(303.7,0.76),(305.3,1.1),(306.3,1.45),(307.4,1.8),(309.0,2.15),(309.6,2.5),(310.1,2.85),(310.6,3.2),(311.2,3.45)],
    [(299.4,0),(301.0,0.17),(303.1,0.46),(305.3,0.87),(306.9,1.1),(308.5,1.34),(310.1,1.69),(311.7,2.03),(312.8,2.27),(313.9,2.62),(315.0,2.97),(315.8,3.2)],
    [(296.0,0),(297.2,0.17),(299.4,0.41),(301.5,0.64),(303.1,0.87),(303.9,1.22),(304.5,1.69),(304.7,2.15),(305.0,2.6),(305.3,2.97),(305.8,3.2),(306.4,3.37),(306.9,3.47),(308.0,3.52)],
    [(294.5,0),(295.3,0.35),(296.0,0.64),(297.8,0.87),(300.5,1.1),(302.6,1.57),(304.2,1.92),(305.8,2.38),(306.9,2.62),(308.0,2.85),(309.0,3.08),(310.1,3.31),(311.2,3.5)],
    [(296.0,0),(297.2,0.12),(299.4,0.29),(301.5,0.52),(303.1,0.76),(305.3,1.1),(306.9,1.45),(308.5,1.8),(309.6,2.15),(310.3,2.5),(310.6,2.97),(310.9,3.43)],
    [(295.5,0),(296.2,0.17),(297.2,0.41),(298.3,0.64),(299.4,0.87),(300.5,1.22),(301.0,1.57),(302.1,1.92),(302.6,2.27),(302.9,2.62),(303.1,2.85),(303.7,3.08),(304.7,3.26),(306.8,3.31),(308.9,3.45)],
    [(296.2,0),(297.2,0.17),(298.8,0.41),(299.9,0.64),(301.0,0.87),(302.1,1.22),(302.6,1.57),(303.1,1.92),(303.7,2.2),(304.2,2.5),(305.3,2.73),(307.4,2.97),(309.0,3.2),(310.1,3.37),(310.6,3.48)],
]
theta_obs_07 = [
    [(297.2,0),(297.3,0.23),(297.8,0.35),(299.4,0.58),(300.4,0.64),(301.5,0.81),(301.8,1.05),(303.1,1.22),(304.5,1.4),(305.8,1.74),(306.9,2.03),(307.7,2.38),(308.0,2.6),(308.8,2.67),(309.3,2.85),(309.8,2.97),(311.2,3.2),(312.5,3.49)],
    [(297.5,0),(298.3,0.29),(299.1,0.52),(300.4,0.7),(301.0,0.93),(302.1,0.99),(303.9,1.05),(305.3,1.16),(306.9,1.34),(308.0,1.57),(308.5,1.8),(309.6,2.09),(310.6,2.33),(311.2,2.5),(311.4,2.9),(311.7,3.2),(312.0,3.43),(312.8,3.5)],
    [(299.9,0),(301.5,0.12),(302.3,0.29),(303.4,0.41),(304.2,0.7),(305.3,0.93),(305.8,1.1),(307.2,1.34),(308.5,1.57),(309.0,1.74),(310.1,1.92),(311.7,2.15),(312.5,2.33),(312.8,2.67),(313.1,2.97),(314.1,3.2),(314.9,3.31),(315.2,3.5)],
    [(299.9,0),(301.0,0.12),(302.1,0.17),(303.1,0.35),(303.9,0.58),(305.3,0.76),(306.3,0.93),(307.4,1.22),(308.5,1.45),(309.6,1.63),(310.6,1.8),(312.2,1.98),(312.8,2.15),(313.6,2.56),(314.4,2.85),(315.2,3.02),(315.8,3.1)],
    [(300.2,0),(301.5,0.12),(302.6,0.29),(304.2,0.52),(305.3,0.76),(306.9,0.99),(308.8,1.22),(309.6,1.45),(311.2,1.63),(312.5,1.86),(313.3,2.03),(314.4,2.2),(315.2,2.27),(316.2,2.45)],
    [(300.7,0),(301.5,0.17),(302.6,0.35),(303.7,0.52),(304.5,0.76),(305.3,0.93),(306.9,1.1),(308.5,1.28),(310.1,1.45),(311.0,1.69),(312.2,1.86),(313.4,2.03),(314.7,2.27),(315.5,2.5),(316.2,2.65)],
    [(299.9,0),(300.2,0.23),(301.5,0.35),(303.1,0.52),(304.7,0.7),(305.8,0.87),(307.2,1.05),(308.0,1.22),(309.6,1.4),(311.2,1.57),(312.2,1.8),(313.3,1.92),(314.9,2.03),(315.5,2.1),(316.2,2.15)],
    [(298.3,0),(298.8,0.29),(299.9,0.46),(300.9,0.7),(302.0,0.87),(302.9,1.1),(302.6,1.34),(305.3,1.45),(306.3,1.51),(307.9,1.8),(309.0,2.03),(309.6,2.27),(310.6,2.45),(311.2,2.5),(311.7,2.85),(312.2,3.2),(312.8,3.5)],
    [(299.4,0),(300.5,0.17),(302.1,0.35),(303.1,0.46),(303.9,0.76),(305.3,0.81),(306.9,0.93),(308.0,1.05),(308.5,1.22),(309.6,1.34),(310.1,1.51),(310.6,1.8),(311.2,2.09),(312.2,2.33),(313.3,2.62),(314.4,2.97),(315.2,3.25),(315.8,3.37)],
    [(296.2,0),(296.7,0.23),(298.3,0.35),(300.5,0.46),(302.6,0.64),(304.2,0.87),(304.7,1.1),(305.0,1.57),(305.0,2.03),(305.3,2.5),(305.5,2.97),(306.1,3.2),(306.9,3.37),(308.5,3.43),(310.1,3.47)],
    [(294.5,0),(295.3,0.4),(296.2,0.7),(297.2,0.81),(299.4,0.93),(302.1,1.05),(303.1,1.16),(303.7,1.45),(304.2,1.8),(305.3,2.15),(306.3,2.5),(307.4,2.73),(308.5,2.97),(309.6,3.2),(310.1,3.4),(311.2,3.5)],
    [(296.2,0),(298.3,0.23),(299.4,0.41),(301.5,0.64),(303.7,0.87),(305.3,1.22),(305.8,1.34),(307.2,1.45),(307.4,1.69),(309.0,2.03),(309.6,2.27),(310.1,2.62),(310.6,2.97),(311.2,3.37),(311.4,3.5)],
    [(295.5,0),(296.2,0.29),(297.2,0.41),(297.8,0.76),(298.6,0.99),(299.4,1.22),(300.2,1.45),(300.7,1.69),(301.5,1.8),(302.0,2.03),(302.3,2.62),(302.6,2.85),(303.7,3.08),(304.7,3.2),(305.3,3.31),(307.4,3.37),(309.0,3.5)],
    [(296.7,0),(297.8,0.12),(299.4,0.29),(300.5,0.52),(301.0,0.76),(302.1,1.1),(302.3,1.45),(302.6,1.92),(302.9,2.27),(303.4,2.5),(303.7,2.62),(304.7,2.73),(305.8,2.85),(308.5,3.02),(310.6,3.14),(311.7,3.26),(312.8,3.43)],
]
q_mod_07 = [
    [(12.5,0),(12.3,0.3),(11.7,0.47),(11.7,0.7),(12.8,0.81),(14.9,0.99),(14.4,1.16),(11.7,1.4),(10.1,1.63),(10.1,1.92),(9.6,2.15),(8.0,2.4),(6.4,2.56),(4.8,2.73),(3.2,3.08),(1.9,3.5)],
    [(16.5,0),(16.0,0.29),(14.9,0.52),(12.8,0.81),(10.7,1.1),(9.1,1.45),(8.0,1.8),(6.9,2.09),(6.7,2.38),(6.9,2.73),(6.7,3.08),(6.4,3.45)],
    [(19.2,0),(18.7,0.17),(17.6,0.41),(15.5,0.76),(14.9,0.99),(13.3,1.34),(11.2,1.63),(9.1,1.8),(6.9,2.03),(6.9,2.38),(7.2,2.85),(8.3,3.08),(8.5,3.45)],
    [(19.2,0),(18.1,0.29),(16.5,0.52),(14.9,0.87),(12.3,1.1),(10.1,1.34),(9.1,1.57),(8.0,1.8),(6.9,1.98),(6.4,2.27),(6.4,2.5),(5.9,2.97),(5.1,3.45)],
    [(18.7,0),(17.6,0.29),(16.5,0.52),(15.5,0.76),(15.2,0.99),(12.3,1.1),(9.6,1.22),(9.1,1.45),(8.5,1.69),(8.3,1.92),(8.0,2.15),(7.5,2.5),(7.2,3.0),(6.9,3.5)],
    [(18.7,0),(18.1,0.29),(17.6,0.52),(16.5,0.87),(16.0,0.99),(12.3,1.1),(9.1,1.28),(6.9,1.45),(6.7,1.69),(6.9,1.92),(6.9,2.3),(7.2,2.62),(6.9,3.08),(6.9,3.5)],
    [(18.7,0),(17.9,0.41),(17.6,0.52),(17.1,0.76),(15.5,0.87),(13.3,1.05),(10.1,1.34),(8.5,1.57),(7.7,1.7),(6.9,1.98),(6.9,2.5),(6.9,2.97),(6.9,3.45)],
    [(19.5,0),(19.2,0.29),(17.6,0.46),(16.5,0.76),(15.5,1.1),(12.8,1.34),(9.6,1.63),(7.5,1.8),(5.9,1.92),(5.3,2.15),(5.9,2.62),(6.1,2.97),(5.9,3.45)],
    [(19.2,0),(19.7,0.41),(19.7,0.99),(18.7,1.34),(15.5,1.57),(12.8,1.8),(11.2,2.2),(10.1,2.62),(9.1,2.95),(8.0,3.2),(6.9,3.45)],
    [(14.4,0),(13.9,0.52),(12.8,0.7),(10.7,0.87),(6.9,1.1),(5.3,1.34),(4.8,1.69),(4.5,2.15),(4.8,2.62),(4.8,3.08),(3.7,3.31),(2.1,3.43),(1.1,3.48)],
    [(12.3,0),(12.3,0.64),(11.7,0.76),(10.1,0.99),(8.0,1.22),(5.9,1.57),(4.5,1.8),(3.7,2.15),(3.2,2.5),(2.7,2.85),(1.9,3.2),(1.6,3.5)],
    [(14.9,0),(13.9,0.23),(12.8,0.41),(11.2,0.64),(9.6,0.87),(8.0,1.1),(6.4,1.45),(5.3,1.69),(4.8,2.03),(4.3,2.38),(3.7,2.73),(3.5,3.08),(3.2,3.45)],
    [(9.6,0),(8.5,0.29),(8.0,0.52),(6.9,0.87),(5.9,1.34),(5.1,1.8),(4.5,2.15),(4.3,2.62),(3.7,2.97),(3.2,3.2),(2.1,3.37),(1.1,3.45)],
    [(8.0,0),(7.5,0.23),(7.2,0.41),(6.9,0.99),(6.4,1.8),(5.9,2.27),(4.8,2.5),(4.3,2.85),(3.2,3.2),(2.1,3.45)],
]
q_obs_07 = [
    [(12.3,0),(12.3,0.23),(11.7,0.41),(12.8,0.52),(11.7,0.64),(10.7,0.76),(12.0,0.87),(15.5,0.99),(12.8,1.16),(9.6,1.34),(8.5,1.4),(7.5,1.51),(7.2,1.74),(5.3,1.8),(6.9,2.15),(6.4,2.4),(5.9,2.55),(4.3,2.73),(3.7,2.95),(3.2,3.2),(3.7,3.37),(6.4,3.5)],
    [(15.8,0),(16.3,0.1),(15.5,0.35),(14.9,0.52),(14.9,0.87),(14.4,0.99),(12.8,1.1),(10.1,1.28),(8.0,1.4),(6.9,1.57),(6.4,1.92),(6.7,2.15),(7.5,2.2),(7.2,2.38),(6.1,2.5),(5.9,2.73),(6.4,2.97),(5.9,3.14),(5.6,3.37),(5.9,3.5)],
    [(18.9,0),(18.4,0.23),(17.1,0.41),(15.5,0.58),(13.9,0.87),(13.3,1.05),(11.7,1.16),(10.1,1.28),(8.0,1.45),(4.8,1.51),(7.5,1.6),(6.4,1.74),(8.5,1.86),(6.9,1.92),(3.7,2.15),(4.8,2.33),(5.9,2.5),(6.9,2.67),(7.5,2.9),(6.9,3.08),(7.5,3.25),(7.2,3.5)],
    [(19.2,0),(17.9,0.12),(16.5,0.35),(15.5,0.7),(16.3,0.87),(14.9,0.99),(13.3,1.1),(11.2,1.22),(9.6,1.34),(8.5,1.51),(7.5,1.68),(5.9,1.86),(5.1,1.8),(5.3,2.03),(6.1,2.2),(6.9,2.38),(6.4,2.5),(5.9,2.73),(6.1,2.97),(5.3,3.14),(4.8,3.37),(4.5,3.5)],
    [(18.9,0),(17.6,0.17),(17.1,0.41),(15.5,0.64),(14.9,0.87),(14.9,1.1),(12.8,1.16),(8.0,1.22),(12.0,1.32),(7.5,1.36),(7.2,1.45),(5.9,1.69),(6.4,1.8),(5.3,1.98),(7.0,2.15),(5.1,2.33),(6.1,2.56),(5.9,2.85),(6.4,3.2),(6.7,3.5)],
    [(19.7,0),(19.2,0.41),(18.1,0.58),(16.5,0.76),(16.0,0.99),(14.4,1.05),(11.2,1.16),(8.5,1.28),(6.9,1.4),(5.9,1.51),(6.4,1.63),(8.0,1.74),(7.2,1.86),(7.5,2.03),(6.9,2.2),(8.0,2.27),(6.9,2.5),(7.2,2.85),(6.9,3.2),(6.9,3.5)],
    [(19.5,0),(19.2,0.29),(18.7,0.52),(17.9,0.7),(16.5,0.87),(14.4,0.99),(13.3,1.22),(11.2,1.34),(8.5,1.45),(8.0,1.68),(7.5,1.86),(6.9,1.98),(5.3,2.03),(2.7,2.15),(4.8,2.27),(5.9,2.44),(5.9,2.85),(6.1,3.2),(6.9,3.37),(6.4,3.5)],
    [(18.7,0),(17.6,0.29),(16.5,0.52),(16.0,0.76),(15.5,0.99),(14.4,1.16),(13.3,1.28),(11.2,1.45),(9.6,1.63),(8.0,1.8),(6.1,1.92),(5.1,2.15),(4.5,2.27),(3.7,2.38),(4.8,2.45),(5.6,2.62),(5.9,2.85),(5.3,3.08),(6.1,3.37),(5.3,3.5)],
    [(19.2,0),(19.5,0.29),(19.7,0.52),(19.2,0.76),(19.7,0.87),(18.7,0.99),(16.5,1.05),(15.5,1.1),(13.3,1.22),(12.3,1.34),(12.5,1.69),(12.8,1.92),(12.3,2.1),(9.3,2.2),(10.1,2.38),(8.8,2.73),(9.6,2.85),(8.5,3.08),(8.0,3.3),(6.9,3.5)],
    [(15.0,0),(14.4,0.17),(14.7,0.52),(12.3,0.64),(11.2,0.7),(8.0,0.76),(5.9,0.81),(4.8,0.99),(3.7,1.22),(4.0,1.45),(4.3,1.69),(3.7,1.92),(4.8,2.15),(5.9,2.38),(5.9,2.62),(4.8,2.97),(4.5,3.2),(3.2,3.31),(2.1,3.43),(1.1,3.5)],
    [(12.0,0),(12.3,0.29),(12.3,0.76),(12.0,0.99),(10.7,1.0),(3.7,1.05),(3.2,1.22),(2.7,1.57),(2.4,1.92),(2.1,2.27),(1.9,2.62),(1.6,2.97),(1.1,3.2),(0.8,3.45)],
    [(15.7,0),(16.0,0.17),(15.5,0.41),(13.9,0.52),(11.8,0.7),(10.7,0.81),(10.1,0.93),(9.1,1.1),(8.0,1.22),(10.1,1.34),(8.5,1.45),(7.5,1.57),(6.4,1.69),(8.5,1.92),(5.9,1.98),(3.7,2.03),(4.8,2.15),(5.3,2.27),(5.1,2.5),(5.3,2.73),(4.8,2.97),(5.1,3.14),(4.5,3.31),(4.3,3.45)],
    [(9.1,0),(8.0,0.17),(6.9,0.41),(6.4,0.76),(5.9,1.1),(5.3,1.45),(4.8,1.8),(4.3,1.92),(3.7,2.15),(4.0,2.38),(4.8,2.62),(5.9,2.85),(4.8,2.97),(3.7,3.08),(2.1,3.2),(1.1,3.26),(0.5,3.37),(1.1,3.5)],
    [(7.5,0),(6.4,0.23),(6.9,0.64),(6.4,1.1),(5.9,1.57),(5.3,2.03),(4.8,2.27),(4.3,2.5),(4.8,2.62),(3.7,2.73),(3.2,2.97),(2.1,3.2),(1.1,3.45)],
]

# ---------------------------------------------------------------- 13 LT (last column)
theta_mod_13b = [
    [(301.5,0),(301.5,0.87),(301.5,1.34),(302.8,1.69),(304.4,2.03),(305.5,2.38),(307.1,2.73),(308.7,3.08),(310.3,3.37),(311.4,3.55)],
    [(304.4,0),(304.4,0.75),(304.6,1.05),(305.5,1.22),(307.1,1.45),(308.2,1.8),(309.8,2.27),(310.9,2.5),(311.7,2.73),(312.5,2.97),(313.5,3.3),(314.0,3.5)],
    [(304.7,0),(304.7,0.87),(305.0,1.22),(306.0,1.34),(307.6,1.69),(309.2,2.03),(310.3,2.38),(311.4,2.67),(312.5,2.97),(313.6,3.25),(314.7,3.45)],
    [(306.8,0),(306.6,0.7),(306.5,1.22),(307.0,1.4),(309.0,1.53),(311.0,1.65),(312.5,1.85),(313.4,2.3),(314.5,2.5),(315.5,2.7),(316.3,2.85)],
    [(306.0,0),(306.0,1.1),(306.6,1.28),(308.7,1.45),(310.3,1.57),(311.9,1.92),(313.0,2.15),(314.1,2.38),(315.2,2.5),(316.2,2.6)],
    [(306.0,0),(306.0,1.0),(306.3,1.2),(308.0,1.35),(309.8,1.5),(311.5,1.72),(313.0,1.95),(314.5,2.2),(315.8,2.45),(316.2,2.5)],
    [(307.8,0),(307.8,0.87),(308.1,1.05),(309.5,1.1),(311.1,1.45),(312.7,1.69),(314.1,2.03),(315.2,2.27),(316.2,2.4)],
    [(302.6,0),(302.8,0.52),(303.8,0.81),(305.4,1.1),(306.0,1.45),(306.6,1.8),(308.2,2.15),(309.8,2.5),(311.4,2.85),(313.0,3.2),(313.8,3.45)],
    [(304.6,0),(304.6,0.64),(304.9,0.81),(305.5,0.87),(307.6,0.99),(309.2,1.1),(309.8,1.69),(310.8,2.03),(311.9,2.27),(312.9,2.38),(314.0,2.85),(314.5,3.2),(315.3,3.45)],
    [(300.2,0),(300.2,0.52),(300.5,0.87),(301.3,0.99),(302.6,1.05),(303.4,1.22),(304.2,1.57),(304.4,1.92),(304.7,2.27),(305.0,2.73),(305.5,3.08),(306.6,3.31),(308.2,3.43),(309.2,3.5)],
    [(298.3,0),(298.3,0.76),(298.6,0.99),(299.6,1.1),(301.2,1.28),(302.8,1.45),(303.8,1.69),(304.3,2.03),(304.9,2.38),(306.0,2.62),(307.1,2.85),(308.2,3.2),(309.2,3.5)],
    [(301.5,0),(301.5,0.64),(301.6,0.87),(302.0,1.1),(303.5,1.34),(305.0,1.57),(306.6,1.8),(308.2,2.15),(308.7,2.5),(309.2,2.97),(309.5,3.31),(309.7,3.5)],
    [(300.2,0),(300.2,0.99),(300.4,1.69),(301.0,2.03),(302.1,2.38),(303.6,2.62),(305.5,2.85),(307.6,3.08),(309.2,3.26),(310.8,3.43)],
    [(302.6,0),(302.6,1.37),(303.1,1.6),(304.5,2.19),(306.2,2.77),(307.3,3.17),(308.9,3.52)],
]
theta_obs_13b = [
    [(301.5,0),(301.7,0.87),(301.8,1.28),(302.8,1.51),(304.2,1.8),(304.7,2.03),(305.5,2.27),(306.5,2.5),(307.6,2.73),(309.2,2.97),(310.3,3.14),(311.4,3.31),(311.9,3.49)],
    [(303.9,0),(303.6,0.29),(303.6,0.64),(303.9,1.05),(304.4,1.28),(305.2,1.4),(306.6,1.57),(307.6,1.8),(308.7,2.03),(309.8,2.38),(310.6,2.67),(311.4,2.91),(312.5,3.2),(313.5,3.43)],
    [(305.5,0),(305.5,0.52),(305.8,0.99),(306.0,1.34),(307.0,1.63),(308.2,1.8),(309.2,1.92),(310.3,2.09),(311.4,2.27),(312.2,2.56),(312.6,2.85),(313.6,3.08),(314.3,3.31),(314.8,3.43)],
    [(306.6,0),(306.0,0.23),(306.0,0.87),(305.8,1.22),(306.6,1.4),(308.7,1.51),(310.3,1.57),(311.9,1.8),(312.7,2.03),(313.2,2.38),(314.0,2.56),(314.8,2.67),(315.6,2.73),(316.3,2.8)],
    [(305.0,0),(305.2,0.52),(305.5,0.99),(305.8,1.22),(307.1,1.34),(309.2,1.45),(310.3,1.57),(310.8,1.8),(311.4,1.92),(313.0,2.15),(313.8,2.38),(314.6,2.62),(315.4,2.97),(316.0,3.1)],
    [(305.8,0),(305.2,0.29),(305.2,0.76),(305.5,1.05),(305.8,1.16),(307.6,1.28),(309.2,1.45),(310.8,1.63),(312.4,1.86),(313.8,2.09),(314.8,2.33),(315.6,2.56),(316.2,2.7)],
    [(307.3,0),(306.5,0.17),(306.2,0.52),(306.2,0.99),(306.5,1.28),(307.3,1.34),(310.0,1.34),(310.6,1.4),(311.8,1.57),(312.8,1.69),(313.9,1.8),(314.7,1.92),(315.6,2.15),(316.2,2.3)],
    [(302.0,0),(302.0,0.41),(302.3,0.64),(303.1,0.87),(304.2,1.05),(305.0,1.28),(305.5,1.57),(306.6,1.86),(307.6,2.03),(309.2,2.15),(310.3,2.33),(311.4,2.5),(312.4,2.79),(313.0,2.97),(313.5,3.14),(314.3,3.31),(314.8,3.45)],
    [(302.0,0),(301.7,0.17),(302.8,0.35),(304.4,0.46),(305.5,0.64),(307.6,0.76),(309.2,0.99),(310.0,1.22),(310.3,1.69),(310.8,1.92),(311.9,2.15),(312.4,2.38),(313.5,2.62),(314.0,2.97),(314.5,3.14),(315.1,3.37),(315.6,3.5)],
    [(299.4,0),(299.6,0.29),(299.4,0.64),(299.6,0.87),(300.7,0.99),(302.2,1.1),(303.0,1.22),(303.6,1.45),(304.2,1.8),(304.4,2.15),(304.7,2.5),(305.5,2.97),(306.3,3.26),(307.6,3.37),(309.2,3.45),(310.8,3.5)],
    [(299.6,0),(299.6,0.52),(299.9,0.87),(300.2,1.1),(301.3,1.22),(303.3,1.34),(304.1,1.51),(304.6,1.8),(304.4,2.03),(305.0,2.33),(306.0,2.56),(307.1,2.79),(308.2,3.08),(308.7,3.31),(309.2,3.5)],
    [(301.2,0),(301.2,0.41),(301.5,0.76),(302.0,1.05),(303.3,1.16),(305.0,1.28),(306.0,1.51),(307.1,1.69),(308.7,1.92),(309.8,2.09),(310.3,2.5),(310.6,2.97),(310.8,3.2),(311.1,3.5)],
    [(301.0,0),(300.7,0.52),(300.7,1.22),(300.7,1.69),(301.3,2.03),(302.2,2.38),(303.9,2.67),(306.0,2.85),(308.2,3.08),(309.8,3.31),(310.3,3.43)],
    [(303.2,0),(303.2,0.79),(303.5,1.49),(304.5,1.84),(305.4,2.19),(305.7,2.42),(306.5,2.77),(307.3,3.0),(308.9,3.29),(310.5,3.52)],
]
q_mod_13b = [
    [(13.2,0),(13.2,0.5),(13.4,1.45),(13.0,1.69),(11.4,2.03),(9.2,2.27),(7.1,2.5),(6.6,2.73),(6.6,3.08),(5.0,3.31),(3.4,3.5)],
    [(15.1,0),(15.0,0.64),(14.6,0.99),(13.5,1.22),(11.9,1.45),(10.3,1.68),(8.7,1.92),(7.1,2.15),(6.0,2.38),(4.9,2.73),(3.8,3.08),(3.1,3.45)],
    [(15.6,0),(15.6,0.87),(15.1,1.1),(13.5,1.34),(10.3,1.51),(7.1,1.69),(6.6,1.92),(6.6,2.38),(7.4,2.73),(7.9,3.1),(7.7,3.45)],
    [(15.9,0),(15.6,0.64),(15.3,1.1),(14.6,1.28),(7.1,1.51),(7.1,1.8),(6.8,2.27),(6.3,2.62),(5.5,2.97),(4.7,3.2),(4.4,3.45)],
    [(17.8,0),(17.5,0.5),(17.2,0.87),(16.7,1.05),(11.4,1.34),(7.5,1.5),(8.5,1.69),(8.5,2.0),(8.2,2.5),(7.9,3.0),(7.9,3.5)],
    [(17.8,0),(17.5,0.52),(17.2,0.99),(16.1,1.16),(11.0,1.45),(5.0,1.74),(4.4,1.8),(5.5,1.92),(6.6,2.15),(6.6,2.62),(6.4,3.08),(6.4,3.5)],
    [(17.0,0),(17.0,0.41),(16.7,0.76),(15.6,0.9),(15.1,1.22),(14.0,1.34),(11.4,1.69),(9.8,2.03),(8.2,2.38),(7.1,2.73),(6.3,3.08),(6.0,3.45)],
    [(13.8,0),(13.5,0.52),(12.5,0.87),(10.8,1.1),(9.6,1.22),(9.3,1.45),(10.3,1.63),(11.4,1.8),(10.8,1.98),(9.5,2.15),(8.7,2.38),(8.2,2.73),(7.1,3.08),(6.0,3.31),(5.0,3.45)],
    [(21.0,0),(20.5,0.29),(19.5,0.64),(15.6,0.81),(5.0,1.05),(6.0,1.45),(8.5,1.75),(10.8,1.92),(6.6,2.09),(5.0,2.73),(5.5,3.08),(6.0,3.5)],
    [(11.1,0),(11.1,0.76),(10.8,0.99),(9.2,1.1),(5.0,1.22),(4.4,1.45),(4.8,1.8),(4.4,2.15),(3.6,2.62),(2.8,2.97),(1.8,3.2),(0.7,3.43)],
    [(11.1,0),(11.1,0.76),(10.5,0.99),(9.2,1.16),(7.1,1.28),(4.4,1.57),(3.6,1.92),(3.4,2.38),(3.1,2.85),(2.8,3.2),(2.3,3.5)],
    [(12.6,0),(12.6,0.76),(12.4,1.05),(11.4,1.16),(8.7,1.34),(6.0,1.57),(4.4,1.92),(3.9,2.27),(4.2,2.62),(4.4,2.97),(4.7,3.31),(4.4,3.5)],
    [(6.2,0),(6.2,0.99),(6.0,1.8),(5.0,2.15),(4.4,2.62),(3.4,2.97),(2.6,3.45)],
    [(7.6,0),(7.6,1.02),(7.1,1.37),(4.7,1.72),(4.2,2.3),(3.9,3.0),(3.6,3.55)],
]
q_obs_13b = [
    [(13.2,0),(14.0,0.41),(14.5,0.7),(15.1,0.87),(14.3,1.1),(13.0,1.34),(12.5,1.57),(11.4,1.86),(10.4,2.03),(8.8,2.27),(7.1,2.5),(4.9,2.67),(2.8,2.8),(1.8,2.85),(1.5,2.97),(1.8,3.31),(2.3,3.5)],
    [(11.9,0),(12.2,0.35),(12.5,0.64),(13.0,0.87),(13.8,1.1),(13.8,1.34),(12.5,1.4),(11.4,1.45),(9.8,1.51),(7.6,1.63),(6.5,1.92),(6.0,2.15),(7.1,2.27),(8.2,2.33),(7.1,2.5),(6.0,2.73),(6.0,2.97),(4.9,3.2),(5.5,3.37),(4.9,3.5)],
    [(12.2,0),(13.3,0.29),(13.0,0.52),(12.8,0.76),(13.3,0.99),(13.9,1.1),(14.1,1.22),(13.0,1.34),(11.9,1.51),(10.3,1.63),(7.6,1.74),(3.9,1.74),(2.3,2.03),(2.6,2.15),(3.6,2.27),(3.3,2.45),(4.4,2.67),(5.5,2.85),(6.0,3.0),(7.1,3.14),(6.5,3.37),(5.7,3.5)],
    [(13.2,0),(13.8,0.29),(14.3,0.52),(14.6,0.76),(15.3,0.93),(15.9,1.1),(17.0,1.28),(16.2,1.34),(11.4,1.4),(6.6,1.45),(5.0,1.51),(4.6,1.69),(5.3,1.86),(6.6,2.0),(7.6,2.15),(6.0,2.3),(5.2,2.5),(5.8,2.67),(5.0,2.85),(5.0,3.08),(4.4,3.31),(2.8,3.45)],
    [(15.1,0),(15.6,0.17),(14.9,0.35),(15.4,0.52),(14.9,0.7),(15.6,0.87),(16.7,1.05),(15.9,1.28),(15.6,1.34),(9.0,1.38),(4.0,1.42),(4.4,1.62),(7.0,1.66),(10.8,1.72),(9.6,1.92),(9.2,2.38),(8.5,2.62),(7.6,2.97),(7.1,3.5)],
    [(15.1,0),(15.4,0.29),(15.9,0.52),(15.6,0.76),(16.7,0.99),(17.0,1.16),(16.0,1.28),(12.0,1.32),(7.6,1.38),(5.5,1.57),(3.9,1.74),(4.4,1.86),(6.0,1.92),(7.1,2.03),(7.4,2.27),(6.6,2.44),(6.6,3.0),(6.6,3.5)],
    [(16.7,0),(16.7,0.35),(16.2,0.58),(17.0,0.76),(17.2,0.99),(16.7,1.22),(15.6,1.34),(11.9,1.34),(10.3,1.45),(9.2,1.63),(7.1,1.74),(8.7,1.86),(7.1,2.03),(6.6,2.27),(7.1,2.5),(5.5,2.73),(5.0,2.97),(5.5,3.2),(5.2,3.45)],
    [(14.6,0),(15.6,0.23),(16.4,0.41),(16.7,0.64),(15.9,0.87),(15.1,1.1),(14.0,1.34),(12.9,1.57),(12.4,1.8),(11.4,2.03),(10.3,2.15),(9.2,2.2),(6.6,2.2),(7.1,2.33),(7.6,2.62),(7.1,2.85),(6.0,2.97),(5.5,3.2),(4.4,3.45)],
    [(18.9,0),(19.2,0.12),(18.1,0.29),(15.6,0.52),(10.3,0.64),(5.0,0.76),(3.4,0.87),(3.1,1.22),(2.8,1.69),(5.0,1.8),(10.3,1.86),(8.7,1.98),(7.6,2.03),(7.1,2.27),(7.4,2.5),(8.2,2.62),(7.1,2.79),(7.1,2.97),(6.8,3.2),(6.6,3.45)],
    [(12.4,0),(12.9,0.17),(13.5,0.52),(13.2,0.76),(12.3,0.87),(10.7,1.05),(6.6,1.1),(4.4,1.22),(4.1,1.45),(4.4,1.69),(4.9,1.8),(3.9,1.98),(4.4,2.15),(5.2,2.38),(3.9,2.62),(3.4,2.85),(3.4,3.08),(2.3,3.2),(1.2,3.37),(0.4,3.47)],
    [(6.0,0),(6.6,0.23),(7.4,0.52),(7.6,0.76),(8.2,0.87),(9.4,0.99),(8.7,1.1),(7.6,1.2),(6.0,1.28),(3.9,1.34),(2.8,1.45),(2.3,1.69),(2.0,2.03),(2.0,2.38),(2.3,2.73),(2.8,2.97),(2.3,3.2),(2.0,3.5)],
    [(11.9,0),(11.9,0.35),(11.6,0.64),(12.1,0.87),(12.4,1.05),(10.3,1.16),(8.7,1.22),(6.6,1.34),(5.5,1.45),(7.1,1.57),(6.6,1.69),(6.0,1.92),(5.0,2.03),(3.4,2.15),(2.6,2.38),(2.8,2.62),(3.4,2.97),(3.1,3.2),(3.6,3.37),(3.4,3.5)],
    [(4.7,0),(5.0,0.76),(5.2,1.69),(5.0,1.92),(3.9,2.15),(3.4,2.62),(3.1,3.08),(2.8,3.45)],
    [(3.1,0),(3.4,0.44),(4.2,0.91),(4.4,1.49),(3.6,1.95),(2.0,2.07),(1.5,2.19),(2.6,2.42),(3.6,2.53),(1.5,2.7),(0.4,2.94),(1.5,3.0),(2.3,3.12),(2.1,3.35),(2.3,3.52)],
]

columns = [
    (dates_13a, theta_mod_13a, theta_obs_13a, q_mod_13a, q_obs_13a),
    (dates_19, theta_mod_19, theta_obs_19, q_mod_19, q_obs_19),
    (dates_07, theta_mod_07, theta_obs_07, q_mod_07, q_obs_07),
    (dates_13b, theta_mod_13b, theta_obs_13b, q_mod_13b, q_obs_13b),
]

# ---------------------------------------------------------------- layout (pixels)
W, H = 1113, 1546
fig = plt.figure(figsize=(W / 100, H / 100), dpi=100)

col_left = [73.0, 337.6, 602.2, 866.8]
half_w = 125.0
top_px = 31.0
row_h = 103.93
n_rows = 14
theta_lim = (296, 316)
q_lim = (0, 20)
tick_label_y = 1507.5
axis_label_y = 1531.5


def frac_rect(x, y_top, w, h):
    return [x / W, 1 - (y_top + h) / H, w / W, h / H]


def style_axes(ax, xlim, xticks):
    ax.set_xlim(*xlim)
    ax.set_ylim(0, 3.6)
    ax.set_xticks(xticks)
    ax.set_yticks(h_ticks)
    ax.tick_params(direction='inout', length=5, width=2.4, top=True, bottom=True,
                   left=True, right=True, labelbottom=False, labelleft=False,
                   color='black')
    for s in ax.spines.values():
        s.set_linewidth(3.0)
    ax.patch.set_alpha(0)


def draw(ax, prof, color, lw, z):
    v = [p[0] for p in prof]
    h = [p[1] for p in prof]
    ax.plot(v, h, color=color, lw=lw, zorder=z,
            solid_joinstyle='round', solid_capstyle='round')


def value_to_px(x0, lim, val):
    return x0 + (val - lim[0]) / (lim[1] - lim[0]) * half_w


for c, (dates, th_mod, th_obs, q_mod, q_obs) in enumerate(columns):
    L = col_left[c]
    mid = L + half_w
    fig.text((mid - 27) / W, 1 - 17 / H, col_titles[c], fontsize=13,
             ha='center', va='center')
    for r in range(n_rows):
        yt = top_px + r * row_h
        ax_t = fig.add_axes(frac_rect(L, yt, half_w, row_h))
        ax_q = fig.add_axes(frac_rect(mid, yt, half_w, row_h))
        style_axes(ax_t, theta_lim, theta_ticks)
        style_axes(ax_q, q_lim, q_ticks)
        ax_q.spines['left'].set_linewidth(4.4)

        draw(ax_t, th_mod[r], 'red', 2.3, 3)
        draw(ax_t, th_obs[r], 'black', 3.4, 4)
        draw(ax_q, q_mod[r], 'red', 2.3, 3)
        draw(ax_q, q_obs[r], 'black', 3.4, 4)

        fig.text((L + 7.5) / W, 1 - (yt + 24) / H, dates[r], fontsize=18,
                 ha='left', va='baseline')

        if c == 0:
            ax_t.tick_params(labelleft=True, labelsize=12, pad=9)
            fig.text(22 / W, 1 - (yt + row_h / 2) / H, r'$h$, km', fontsize=20,
                     rotation=90, ha='center', va='center')

    # bottom scale labels
    for val, txt, dx in theta_labels:
        x = value_to_px(L, theta_lim, val) + dx
        fig.text(x / W, 1 - tick_label_y / H, txt, fontsize=12, ha='center', va='center')
    for val, txt, dx in q_labels:
        x = value_to_px(mid, q_lim, val) + dx
        fig.text(x / W, 1 - tick_label_y / H, txt, fontsize=12, ha='center', va='center')
    fig.text((L + 60) / W, 1 - axis_label_y / H, r'$\theta$, K', fontsize=16.5,
             ha='center', va='center')
    fig.text((mid + 64) / W, 1 - axis_label_y / H, r'$q$, g kg$^{-1}$', fontsize=16.5,
             ha='center', va='center')

fig.savefig('out.png', dpi=100)
